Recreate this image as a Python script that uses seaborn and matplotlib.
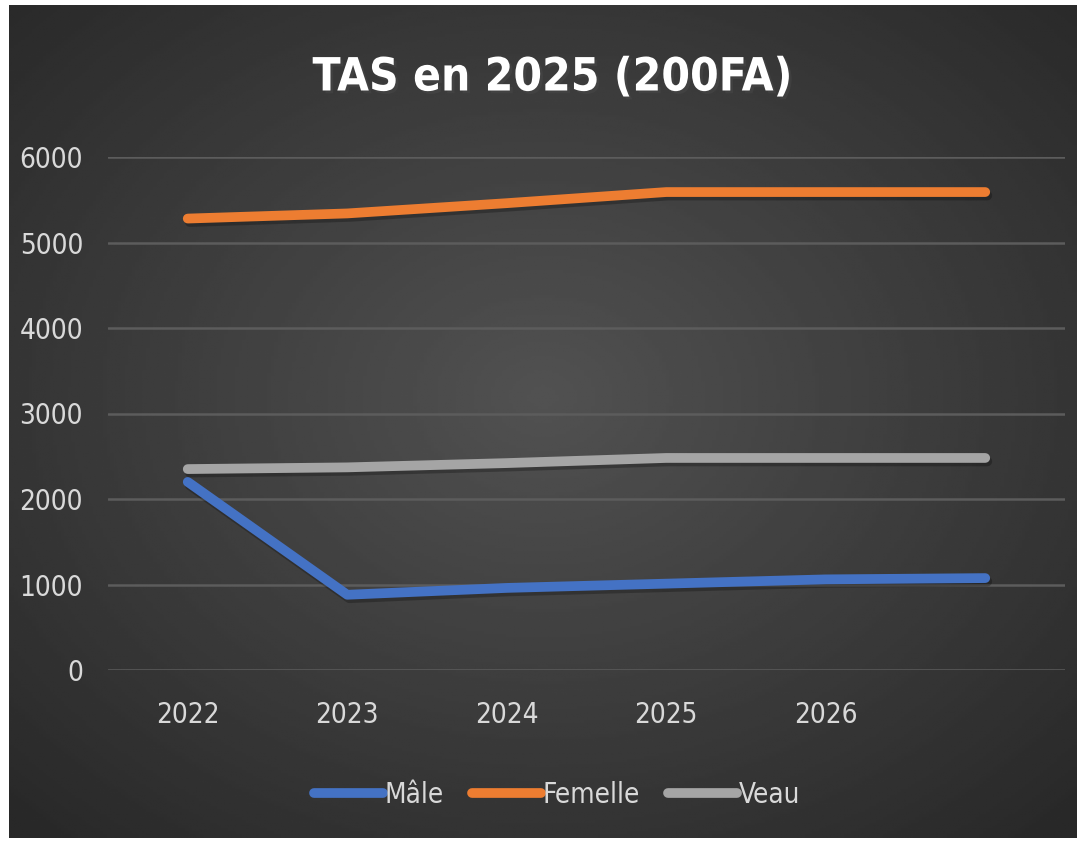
import numpy as np
import pandas as pd
import matplotlib
matplotlib.use('Agg')
import matplotlib.pyplot as plt
import matplotlib.patheffects as pe
import seaborn as sns

# data
years = [2022, 2023, 2024, 2025, 2026, 2027]
year_labels = ['2022', '2023', '2024', '2025', '2026', '']
male = [2200, 880, 960, 1010, 1060, 1075]
female = [5280, 5340, 5460, 5590, 5590, 5590]
calf = [2350, 2370, 2420, 2480, 2480, 2480]
series_names = ['Mâle', 'Femelle', 'Veau']
colors = ['#4472C4', '#ED7D31', '#A5A5A5']

df = pd.DataFrame({
    'year': years * 3,
    'value': male + female + calf,
    'serie': [s for s in series_names for _ in years],
})

sns.set_theme(style='dark')
plt.rcParams['font.family'] = ['DejaVu Sans']
plt.rcParams['font.stretch'] = 'condensed'

W, H = 1082, 842
fig = plt.figure(figsize=(W / 100, H / 100), dpi=100, facecolor='white')

# dark radial gradient background panel
bg = fig.add_axes([9 / W, 1 - 838 / H, (1077 - 9) / W, (838 - 5) / H])
yy, xx = np.mgrid[0:1:300j, 0:1:300j]
r = np.sqrt(((xx - 0.5) / 0.75) ** 2 + ((yy - 0.47) / 0.75) ** 2)
shade = np.clip(0.32 - 0.17 * r, 0.16, 0.32)
bg.imshow(shade, cmap='gray', vmin=0, vmax=1, aspect='auto', extent=[0, 1, 0, 1])
bg.set_axis_off()

ax = fig.add_axes([108 / W, 1 - 670 / H, (1065 - 108) / W, (670 - 157) / H])
ax.patch.set_alpha(0)

sns.lineplot(data=df, x='year', y='value', hue='serie', hue_order=series_names,
             palette=colors, linewidth=7, ax=ax, sort=False,
             solid_capstyle='round')
for line in ax.get_lines():
    line.set_path_effects([pe.SimpleLineShadow(offset=(1.5, -2.5), alpha=0.25, shadow_color='black'),
                           pe.Normal()])

ax.set_xlim(2021.5, 2027.5)
ax.set_ylim(0, 6000)
ax.set_yticks(range(0, 6001, 1000))
ax.set_xticks(years)
ax.set_xticklabels(year_labels)
ax.set_xlabel('')
ax.set_ylabel('')
ax.grid(axis='y', color='#5c5c5c', linewidth=1.8)
ax.grid(axis='x', visible=False)
for s in ax.spines.values():
    s.set_visible(False)
ax.tick_params(axis='both', colors='#d9d9d9', labelsize=20, length=0)
ax.tick_params(axis='y', pad=18)
ax.tick_params(axis='x', pad=22)

fig.text(553 / W, 1 - 78 / H, 'TAS en 2025 (200FA)', ha='center', va='center',
         color='white', fontsize=33, fontweight='bold',
         path_effects=[pe.withSimplePatchShadow(offset=(2, -2), alpha=0.4)])

leg = ax.legend(loc='center', bbox_to_anchor=(557 / W, 1 - 795 / H),
                bbox_transform=fig.transFigure, ncol=3, frameon=False,
                fontsize=20, handlelength=2.5, handletextpad=0.05,
                columnspacing=1.0, labelcolor='#d9d9d9')
for h in leg.get_lines():
    h.set_linewidth(7)
    h.set_path_effects([])

fig.savefig('out.png', dpi=100, facecolor='white')
